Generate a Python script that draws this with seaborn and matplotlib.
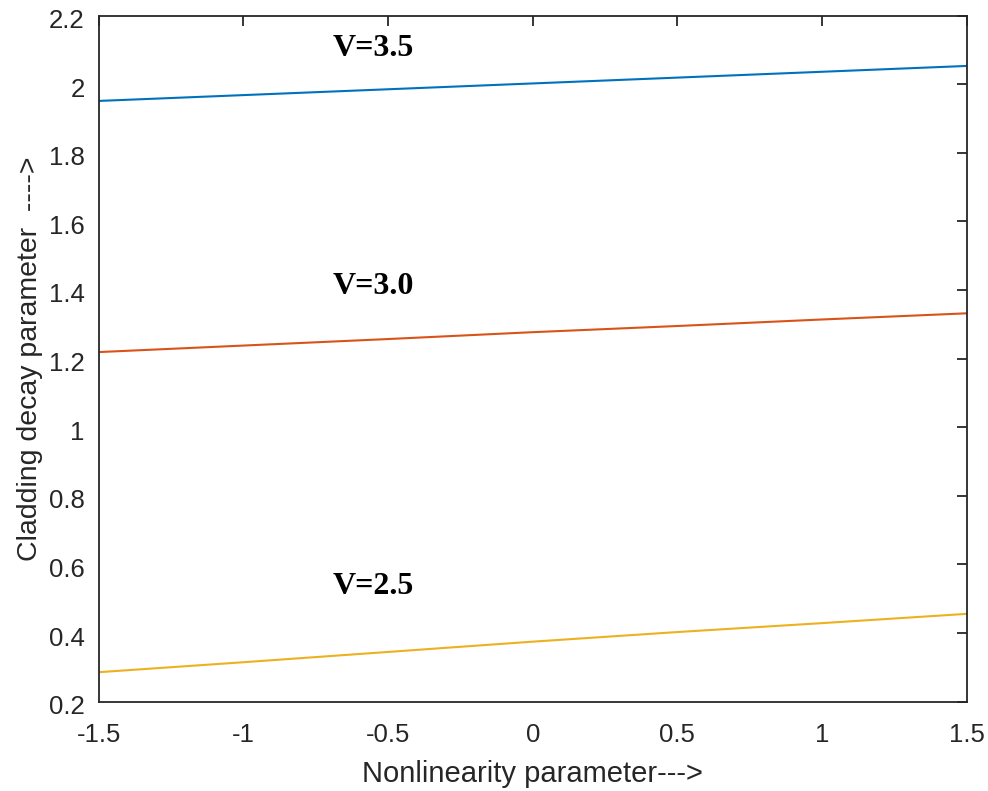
import numpy as np
import pandas as pd
import matplotlib
matplotlib.use("Agg")
import matplotlib.pyplot as plt
import matplotlib.transforms as mtransforms
import seaborn as sns

# Data
x_vals = [-1.5, -1.0, -0.5, 0.0, 0.5, 1.0, 1.5]
v35 = [1.951, 1.968, 1.985, 2.002, 2.019, 2.036, 2.053]
v30 = [1.219, 1.238, 1.257, 1.277, 1.295, 1.314, 1.332]
v25 = [0.286, 0.315, 0.345, 0.375, 0.403, 0.429, 0.456]
series_names = ["V=3.5", "V=3.0", "V=2.5"]
colors = ["#0072BD", "#D95319", "#EDB120"]
label_pos_x = [-0.69, -0.69, -0.69]
label_pos_y = [2.105, 1.41, 0.535]
x_ticks = [-1.5, -1, -0.5, 0, 0.5, 1, 1.5]
x_ticklabels = ["-1.5", "-1", "-0.5", "0", "0.5", "1", "1.5"]
y_ticks = [0.2, 0.4, 0.6, 0.8, 1.0, 1.2, 1.4, 1.6, 1.8, 2.0, 2.2]
y_ticklabels = ["0.2", "0.4", "0.6", "0.8", "1", "1.2", "1.4", "1.6", "1.8", "2", "2.2"]

df = pd.DataFrame({
    "x": x_vals * 3,
    "y": v35 + v30 + v25,
    "series": [series_names[0]] * len(x_vals) + [series_names[1]] * len(x_vals) + [series_names[2]] * len(x_vals),
})

sns.set_style("white")
plt.rcParams["font.family"] = ["Liberation Sans", "DejaVu Sans"]

fig = plt.figure(figsize=(9.88, 7.91), dpi=100)
ax = fig.add_axes([0.0999, 0.1129, 0.8786, 0.8675])

sns.lineplot(data=df, x="x", y="y", hue="series", palette=dict(zip(series_names, colors)),
             linewidth=1.5, legend=False, ax=ax)

for name, lx, ly in zip(series_names, label_pos_x, label_pos_y):
    ax.text(lx, ly, name, fontsize=23, fontweight="bold", family="Liberation Serif",
            color="black", ha="left", va="center")

ax.set_xlim(-1.5, 1.5)
ax.set_ylim(0.2, 2.2)
ax.set_xticks(x_ticks)
ax.set_xticklabels(x_ticklabels)
ax.set_yticks(y_ticks)
ax.set_yticklabels(y_ticklabels)
ax.tick_params(direction="in", length=7, width=1.3, colors="#262626", labelsize=18.5,
               top=True, right=True, labelcolor="#262626")
ax.tick_params(axis="x", pad=15)
ax.tick_params(axis="y", pad=10)
offset = mtransforms.ScaledTranslation(0, -3 / 100, fig.dpi_scale_trans)
for lab in ax.get_yticklabels():
    lab.set_transform(lab.get_transform() + offset)
for s in ax.spines.values():
    s.set_visible(True)
    s.set_linewidth(1.3)
    s.set_color("#262626")

ax.set_xlabel("Nonlinearity parameter--->", fontsize=21, color="#262626", labelpad=10)
ax.set_ylabel("Cladding decay parameter  ---->", fontsize=20.5, color="#262626", labelpad=4)

fig.savefig("out.png", dpi=100)
